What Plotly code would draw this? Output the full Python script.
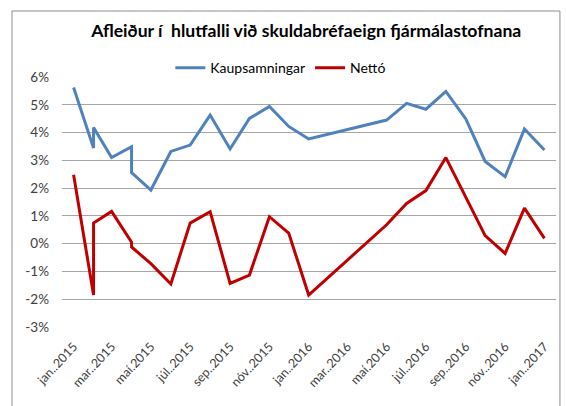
import plotly.graph_objects as go

title = "Afleiður í  hlutfalli við skuldabréfaeign fjármálastofnana"

months = ["2015-01-01", "2015-02-01", "2015-02-01", "2015-03-01", "2015-04-01", "2015-04-01",
          "2015-05-01", "2015-06-01", "2015-07-01", "2015-08-01", "2015-09-01", "2015-10-01",
          "2015-11-01", "2015-12-01", "2016-01-01", "2016-05-01", "2016-06-01", "2016-07-01",
          "2016-08-01", "2016-09-01", "2016-10-01", "2016-11-01", "2016-12-01", "2017-01-01"]

kaupsamningar = [5.62, 3.44, 4.18, 3.10, 3.49, 2.56, 1.93, 3.32, 3.55, 4.63, 3.41, 4.51,
                 4.94, 4.22, 3.77, 4.45, 5.05, 4.84, 5.48, 4.49, 2.96, 2.41, 4.13, 3.37]

netto = [2.48, -1.85, 0.74, 1.16, 0.05, -0.12, -0.72, -1.45, 0.74, 1.15, -1.43, -1.13,
         0.97, 0.38, -1.85, 0.68, 1.45, 1.91, 3.10, 1.67, 0.29, -0.35, 1.28, 0.19]

tick_dates = ["2015-01-01", "2015-03-01", "2015-05-01", "2015-07-01", "2015-09-01", "2015-11-01",
              "2016-01-01", "2016-03-01", "2016-05-01", "2016-07-01", "2016-09-01", "2016-11-01",
              "2017-01-01"]
tick_labels = ["jan..2015", "mar..2015", "maí.2015", "júl..2015", "sep..2015", "nóv..2015",
               "jan..2016", "mar..2016", "maí.2016", "júl..2016", "sep..2016", "nóv..2016",
               "jan..2017"]

y_ticks = [-3, -2, -1, 0, 1, 2, 3, 4, 5, 6]
y_labels = ["-3%", "-2%", "-1%", "0%", "1%", "2%", "3%", "4%", "5%", "6%"]

FONT = "Lato"

fig = go.Figure()
fig.add_trace(go.Scatter(x=months, y=kaupsamningar, mode="lines", name="Kaupsamningar",
                         line=dict(color="#4F81BD", width=3)))
fig.add_trace(go.Scatter(x=months, y=netto, mode="lines", name="Nettó",
                         line=dict(color="#C00000", width=3)))

fig.update_layout(
    width=566, height=406,
    margin=dict(l=62, r=10, t=77, b=79, autoexpand=False),
    paper_bgcolor="white", plot_bgcolor="white",
    font=dict(family=FONT, color="#404040", size=12),
    title=dict(text="<b>" + title + "</b>", x=0.541, xref="container", xanchor="center",
               y=0.925, yref="container", yanchor="middle",
               font=dict(family=FONT, size=17.6, color="#000000")),
    legend=dict(orientation="h", x=0.443, xanchor="center", y=1.035, yanchor="middle",
                bgcolor="white", font=dict(family=FONT, size=14, color="#000000"),
                itemwidth=30, tracegroupgap=0),
    showlegend=True,
)
fig.update_xaxes(type="date", range=["2014-12-14", "2017-01-19"], tickvals=tick_dates,
                 ticktext=tick_labels, tickangle=-47, showgrid=False, zeroline=False,
                 showline=False, ticks="", automargin=False, ticklabelstandoff=9,
                 tickfont=dict(size=12.5, color="#404040"))
fig.update_yaxes(range=[-3, 6], tickvals=y_ticks, ticktext=y_labels, showgrid=True,
                 gridcolor="#A6A6A6", gridwidth=1, zeroline=False, showline=False, ticks="",
                 ticklabelstandoff=12, automargin=False,
                 tickfont=dict(size=13.5, color="#404040"))

fig.add_shape(type="rect", xref="paper", yref="paper", x0=-0.1012, x1=1.008, y0=-0.4, y1=1.264,
              line=dict(color="#8C8C8C", width=1), fillcolor="rgba(0,0,0,0)", layer="above")

fig.write_html("out.html", config={"displayModeBar": False},
               post_script="document.body.style.margin='0px';")
